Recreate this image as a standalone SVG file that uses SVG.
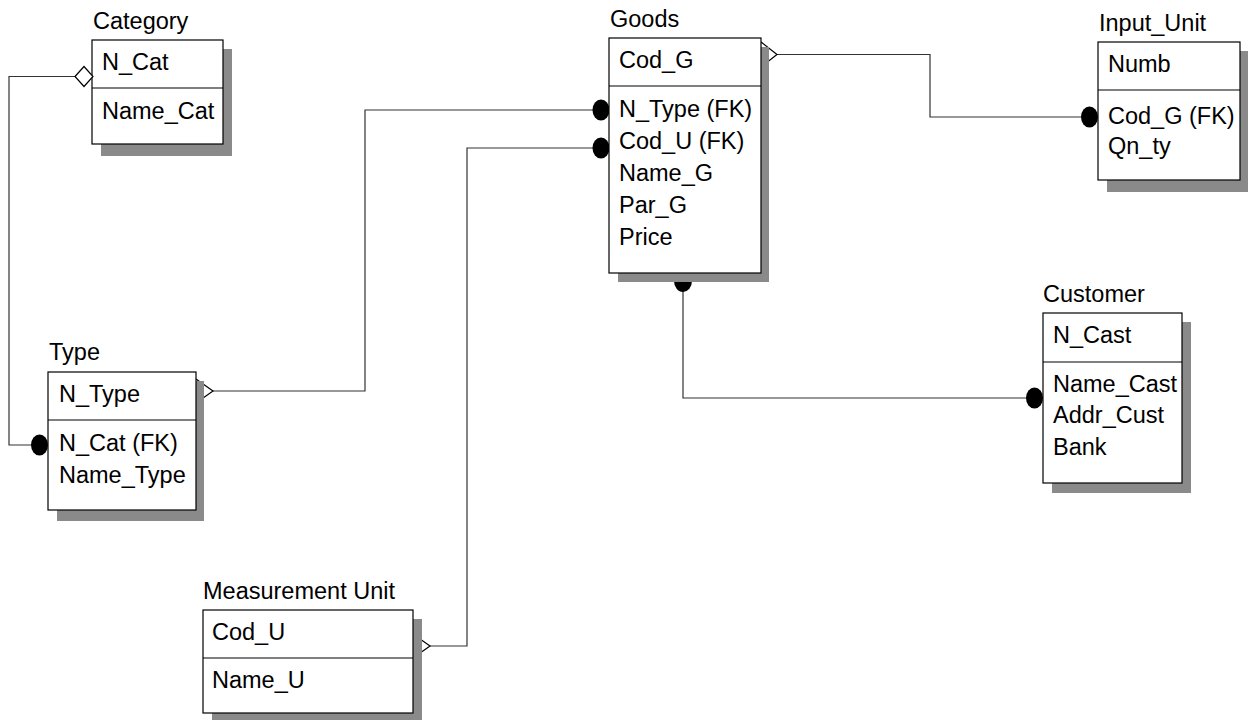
<svg xmlns="http://www.w3.org/2000/svg" width="1248" height="720" viewBox="0 0 1248 720">
<style>
  text { font-family: "Liberation Sans", Arial, sans-serif; font-size: 23.5px; fill: #000; }
  .box { fill: #fff; stroke: #000; stroke-width: 1.2; }
  .shadow { fill: #8a8a8a; stroke: none; }
  .div { stroke: #000; stroke-width: 1.2; }
  .conn { fill: none; stroke: #333; stroke-width: 1.2; }
  .dot { fill: #000; }
  .open { fill: #fff; stroke: #000; stroke-width: 1.2; }
</style>
<rect width="1248" height="720" fill="#fff"/>
<g id="connectors">
  <!-- Category - Type -->
  <polyline class="conn" points="75,76.5 9,76.5 9,445 32,445"/>
  <ellipse class="dot" cx="39.5" cy="445" rx="8.5" ry="10.5"/>
  <!-- Type - Goods -->
  <polyline class="conn" points="213,391 365,391 365,110 593,110"/>
  <ellipse class="dot" cx="601" cy="110" rx="8.5" ry="10.5"/>
  <!-- Measurement Unit - Goods -->
  <polyline class="conn" points="430,646 467,646 467,148 593,148"/>
  <ellipse class="dot" cx="601" cy="148" rx="8.5" ry="10.5"/>
  <!-- Goods - Input_Unit -->
  <polyline class="conn" points="777,54.5 930,54.5 930,117 1081,117"/>
  <ellipse class="dot" cx="1089.5" cy="117" rx="8.5" ry="10.5"/>
  <!-- Goods - Customer -->
  <polyline class="conn" points="683,290 683,398 1026,398"/>
  <ellipse class="dot" cx="683" cy="281" rx="9" ry="11"/>
  <ellipse class="dot" cx="1034.5" cy="398" rx="8.5" ry="10.5"/>
  <!-- open ends -->
  <polyline class="conn" points="196,379 213,391 196,403" style="stroke:#000"/>
  <polyline class="conn" points="761,42 777,54.5 761,67" style="stroke:#000"/>
  <polyline class="conn" points="413,634 430,646 413,658" style="stroke:#000"/>
</g>
<g id="Category">
  <rect class="shadow" x="101" y="49" width="131" height="107"/>
  <rect class="box" x="92" y="40" width="131" height="104"/>
  <line class="div" x1="92" y1="88" x2="223" y2="88"/>
  <polygon class="open" points="75,76.5 84,66.5 93,76.5 84,86.5"/>
  <text x="93" y="29">Category</text>
  <text x="102" y="70">N_Cat</text>
  <text x="102" y="119">Name_Cat</text>
</g>
<g id="Type">
  <rect class="shadow" x="57" y="381" width="147" height="140"/>
  <rect class="box" x="48" y="372" width="148" height="138"/>
  <line class="div" x1="48" y1="420" x2="196" y2="420"/>
  <text x="49" y="360">Type</text>
  <text x="59" y="402">N_Type</text>
  <text x="59" y="451">N_Cat (FK)</text>
  <text x="59" y="483">Name_Type</text>
</g>
<g id="Goods">
  <rect class="shadow" x="618" y="47" width="151" height="235"/>
  <rect class="box" x="609" y="38" width="152" height="235"/>
  <line class="div" x1="609" y1="86" x2="761" y2="86"/>
  <text x="610" y="27">Goods</text>
  <text x="619" y="68">Cod_G</text>
  <text x="619" y="117">N_Type (FK)</text>
  <text x="619" y="149">Cod_U (FK)</text>
  <text x="619" y="181">Name_G</text>
  <text x="619" y="213">Par_G</text>
  <text x="619" y="245">Price</text>
</g>
<g id="Input_Unit">
  <rect class="shadow" x="1107" y="51" width="141" height="141"/>
  <rect class="box" x="1098" y="42" width="142" height="138"/>
  <line class="div" x1="1098" y1="90" x2="1240" y2="90"/>
  <text x="1099" y="31">Input_Unit</text>
  <text x="1108" y="72">Numb</text>
  <text x="1108" y="124">Cod_G (FK)</text>
  <text x="1108" y="154">Qn_ty</text>
</g>
<g id="Customer">
  <rect class="shadow" x="1052" y="322" width="139" height="171"/>
  <rect class="box" x="1043" y="313" width="139" height="170"/>
  <line class="div" x1="1043" y1="362" x2="1182" y2="362"/>
  <text x="1043" y="302">Customer</text>
  <text x="1053" y="343">N_Cast</text>
  <text x="1053" y="392">Name_Cast</text>
  <text x="1053" y="423">Addr_Cust</text>
  <text x="1053" y="455">Bank</text>
</g>
<g id="Measurement_Unit">
  <rect class="shadow" x="212" y="619" width="210" height="101"/>
  <rect class="box" x="203" y="610" width="210" height="103"/>
  <line class="div" x1="203" y1="658" x2="413" y2="658"/>
  <text x="203" y="599">Measurement Unit</text>
  <text x="212" y="640">Cod_U</text>
  <text x="212" y="688">Name_U</text>
</g>
</svg>
